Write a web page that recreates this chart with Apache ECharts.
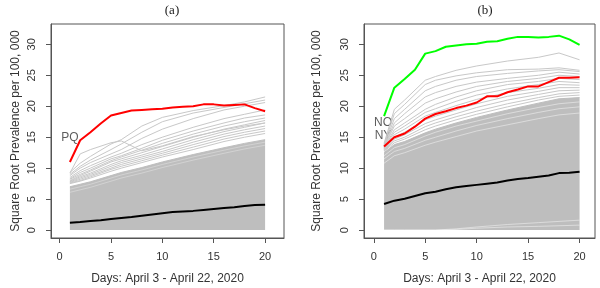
<!DOCTYPE html>
<html>
<head>
<meta charset="utf-8">
<script src="https://cdn.jsdelivr.net/npm/echarts@6/dist/echarts.min.js"></script>
<style>
  html, body { margin: 0; background: #fff; }
  #chart { width: 600px; height: 288px; }
</style>
</head>
<body>
<div id="chart"></div>
<script>
// days on the x axis
const days = [1, 2, 3, 4, 5, 6, 7, 8, 9, 10, 11, 12, 13, 14, 15, 16, 17, 18, 19, 20]
// gray state lines are read at these days only
const knots = [1, 2, 3, 5, 6, 8, 10, 13, 16, 18, 20]
const xTicks = [0, 5, 10, 15, 20]
const yTicks = [0, 5, 10, 15, 20, 25, 30]

// panel (a)
const redA = [11.0, 14.5, 15.8, 17.2, 18.5, 18.9, 19.3, 19.4, 19.5, 19.6, 19.8, 19.9, 20.0, 20.3, 20.3, 20.1, 20.2, 20.3, 19.7, 19.2]
const blackA = [1.2, 1.3, 1.45, 1.6, 1.8, 1.95, 2.1, 2.3, 2.5, 2.7, 2.9, 3.0, 3.1, 3.25, 3.4, 3.55, 3.7, 3.9, 4.05, 4.1]
const bandA = [7.0, 7.4, 7.8, 8.8, 9.3, 10.1, 11.0, 12.2, 13.3, 14.0, 14.6]
const grayA = [
  [9.3, 10.8, 11.9, 13.9, 14.6, 16.8, 18.2, 19.3, 20.1, 20.7, 21.5],
  [9.0, 10.3, 11.3, 13.0, 13.9, 15.8, 17.5, 18.9, 19.8, 20.4, 21.0],
  [8.8, 10.0, 10.9, 12.3, 13.0, 14.8, 16.3, 18.0, 19.4, 20.0, 20.6],
  [9.2, 12.3, 13.0, 14.1, 14.4, 12.8, 13.6, 15.1, 16.2, 16.8, 17.3],
  [8.5, 9.6, 10.4, 11.8, 12.4, 13.8, 15.0, 16.6, 18.0, 18.7, 19.4],
  [8.3, 9.3, 10.0, 11.5, 12.0, 13.2, 14.5, 16.0, 17.3, 18.1, 18.6],
  [8.2, 9.0, 9.7, 11.2, 11.8, 12.9, 14.0, 15.5, 16.8, 17.5, 18.1],
  [8.0, 8.8, 9.5, 11.0, 11.5, 12.5, 13.5, 15.0, 16.3, 17.0, 17.7],
  [7.9, 8.6, 9.2, 10.6, 11.2, 12.1, 13.1, 14.6, 15.9, 16.6, 17.3],
  [7.8, 8.4, 9.0, 10.3, 10.9, 11.8, 12.7, 14.2, 15.5, 16.2, 16.8],
  [7.7, 8.2, 8.8, 10.0, 10.6, 11.5, 12.4, 13.8, 15.1, 15.8, 16.4],
  [7.6, 8.0, 8.6, 9.8, 10.3, 11.2, 12.1, 13.4, 14.7, 15.4, 16.0],
  [7.5, 7.9, 8.4, 9.5, 10.0, 10.9, 11.8, 13.0, 14.3, 15.0, 15.6]
]
const whiteA = [
  [6.6, 7.0, 7.4, 8.4, 8.9, 9.7, 10.6, 11.8, 12.9, 13.6, 14.2],
  [6.1, 6.5, 6.9, 7.9, 8.4, 9.2, 10.1, 11.3, 12.4, 13.1, 13.7]
]

// panel (b)
const greenB = [18.4, 23.0, 24.4, 25.9, 28.5, 28.9, 29.6, 29.8, 30.0, 30.1, 30.4, 30.5, 30.9, 31.2, 31.2, 31.1, 31.2, 31.4, 30.8, 29.9]
const redB = [13.5, 15.0, 15.6, 16.7, 18.0, 18.75, 19.2, 19.7, 20.1, 20.6, 21.6, 21.6, 22.25, 22.7, 23.2, 23.2, 23.9, 24.6, 24.6, 24.7]
const blackB = [4.2, 4.75, 5.05, 5.5, 5.95, 6.2, 6.6, 6.9, 7.1, 7.3, 7.5, 7.7, 8.0, 8.25, 8.4, 8.6, 8.8, 9.2, 9.25, 9.4]
const bandB = [12.5, 13.8, 14.3, 15.7, 16.3, 17.3, 18.2, 19.4, 20.5, 21.2, 21.4]
const grayB = [
  [14.0, 19.5, 21.0, 24.2, 24.8, 25.8, 26.5, 27.3, 27.9, 28.6, 27.5],
  [13.8, 18.8, 20.3, 23.5, 24.2, 24.9, 25.4, 25.9, 26.0, 26.2, 25.8],
  [13.6, 18.0, 19.5, 22.5, 23.2, 24.2, 24.8, 25.3, 25.7, 25.9, 25.6],
  [13.5, 17.3, 18.8, 21.5, 22.2, 23.2, 23.9, 24.5, 25.0, 25.5, 25.2],
  [13.4, 16.8, 18.0, 20.5, 21.2, 22.3, 23.2, 24.0, 24.5, 25.0, 24.8],
  [13.3, 16.2, 17.3, 19.5, 20.3, 21.5, 22.5, 23.5, 24.0, 24.5, 24.3],
  [13.2, 15.8, 16.8, 19.0, 19.6, 20.8, 21.8, 22.8, 23.5, 24.0, 23.8],
  [13.1, 15.4, 16.3, 18.4, 19.0, 20.1, 21.1, 22.2, 22.9, 23.5, 23.4],
  [13.0, 15.0, 15.8, 17.8, 18.4, 19.4, 20.4, 21.6, 22.4, 23.0, 23.0],
  [12.9, 14.7, 15.4, 17.2, 17.8, 18.8, 19.8, 21.0, 21.9, 22.5, 22.6],
  [12.8, 14.4, 15.0, 16.7, 17.3, 18.3, 19.2, 20.4, 21.4, 22.0, 22.2],
  [12.7, 14.1, 14.7, 16.2, 16.8, 17.8, 18.7, 19.9, 21.0, 21.6, 21.8]
]
const whiteB = [
  [12.0, 13.3, 13.8, 15.2, 15.8, 16.8, 17.6, 18.8, 19.8, 20.4, 20.7],
  [11.5, 12.7, 13.2, 14.5, 15.0, 16.0, 16.9, 18.0, 19.0, 19.6, 19.9],
  [10.8, 12.0, 12.5, 13.7, 14.2, 15.1, 16.0, 17.0, 18.0, 18.6, 18.9],
  [0.0, 0.0, 0.0, 0.0, 0.0, 0.2, 0.5, 0.9, 1.2, 1.4, 1.6],
  [0.0, 0.0, 0.0, 0.0, 0.0, 0.1, 0.3, 0.5, 0.6, 0.7, 0.8]
]

// text labels next to the highlighted states
const labelsA = [{ name: 'PQ', x: 1.0, y: 15.0 }]
const labelsB = [{ name: 'NO', x: 0.9, y: 17.4 }, { name: 'NY', x: 0.9, y: 15.2 }]

const font = 'Liberation Sans, Arial, sans-serif'
const pairs = (xs, ys) => ys.map((v, i) => [xs[i], v])

const lineSeries = (idx, xs, ys, color, width, opacity) => ({
  type: 'line',
  xAxisIndex: idx,
  yAxisIndex: idx,
  data: pairs(xs, ys),
  symbol: 'none',
  silent: true,
  lineStyle: { color: color, width: width, opacity: opacity == null ? 1 : opacity }
})

const bandSeries = (idx, ys) => ({
  type: 'line',
  xAxisIndex: idx,
  yAxisIndex: idx,
  data: pairs(knots, ys),
  symbol: 'none',
  silent: true,
  lineStyle: { color: '#bebebe', width: 1 },
  areaStyle: { color: '#bebebe', opacity: 1 }
})

const labelSeries = (idx, items) => ({
  type: 'scatter',
  xAxisIndex: idx,
  yAxisIndex: idx,
  symbolSize: 0,
  silent: true,
  data: items.map(d => ({ name: d.name, value: [d.x, d.y] })),
  label: {
    show: true,
    position: 'inside',
    formatter: '{b}',
    fontFamily: font,
    fontSize: 12,
    color: '#333'
  }
})

const xAx = (idx, min, max) => ({
  type: 'value',
  gridIndex: idx,
  min: min,
  max: max,
  name: 'Days: April 3 - April 22, 2020',
  nameLocation: 'middle',
  nameGap: 35,
  nameTextStyle: { fontFamily: font, fontSize: 12, color: '#333' },
  axisLine: { show: true, onZero: false, lineStyle: { color: '#555' } },
  axisTick: { show: true, length: 5, customValues: xTicks, lineStyle: { color: '#555' } },
  axisLabel: { customValues: xTicks, margin: 13, fontFamily: font, fontSize: 11, color: '#333' },
  splitLine: { show: false }
})

const yAx = (idx, gap) => ({
  type: 'value',
  gridIndex: idx,
  min: -1.28,
  max: 33.28,
  name: 'Square Root Prevalence per 100, 000',
  nameLocation: 'middle',
  nameGap: gap,
  nameTextStyle: { fontFamily: font, fontSize: 12, color: '#333' },
  axisLine: { show: true, onZero: false, lineStyle: { color: '#555' } },
  axisTick: { show: true, length: 5, customValues: yTicks, lineStyle: { color: '#555' } },
  axisLabel: { customValues: yTicks, rotate: 90, margin: 14, fontFamily: font, fontSize: 11, color: '#333' },
  splitLine: { show: false }
})

const series = [
  bandSeries(0, bandA),
  ...grayA.map(ys => lineSeries(0, knots, ys, '#c8c8c8', 1)),
  ...whiteA.map(ys => lineSeries(0, knots, ys, '#ffffff', 1, 0.3)),
  lineSeries(0, days, blackA, '#000000', 2),
  lineSeries(0, days, redA, '#ff0000', 2),
  labelSeries(0, labelsA),

  bandSeries(1, bandB),
  ...grayB.map(ys => lineSeries(1, knots, ys, '#c8c8c8', 1)),
  ...whiteB.map(ys => lineSeries(1, knots, ys, '#ffffff', 1, 0.45)),
  lineSeries(1, days, blackB, '#000000', 2),
  lineSeries(1, days, redB, '#ff0000', 2),
  lineSeries(1, days, greenB, '#00ff00', 2),
  labelSeries(1, labelsB)
]

const chart = echarts.init(document.getElementById('chart'))
chart.setOption({
  animation: false,
  backgroundColor: '#ffffff',
  title: [
    { text: '(a)', left: 167, top: -1, textAlign: 'center',
      textStyle: { fontFamily: 'Liberation Serif, Times New Roman, serif', fontSize: 13, fontWeight: 'normal', color: '#222' } },
    { text: '(b)', left: 480, top: -1, textAlign: 'center',
      textStyle: { fontFamily: 'Liberation Serif, Times New Roman, serif', fontSize: 13, fontWeight: 'normal', color: '#222' } }
  ],
  grid: [
    { left: 51, top: 24, width: 233, height: 214, outerBoundsMode: 'none', show: true, borderColor: '#555', borderWidth: 1, backgroundColor: 'transparent' },
    { left: 364, top: 24, width: 231, height: 214, outerBoundsMode: 'none', show: true, borderColor: '#555', borderWidth: 1, backgroundColor: 'transparent' }
  ],
  xAxis: [xAx(0, -0.84, 21.84), xAx(1, -0.95, 21.5)],
  yAxis: [yAx(0, 29), yAx(1, 41)],
  series: series
})
</script>
</body>
</html>
